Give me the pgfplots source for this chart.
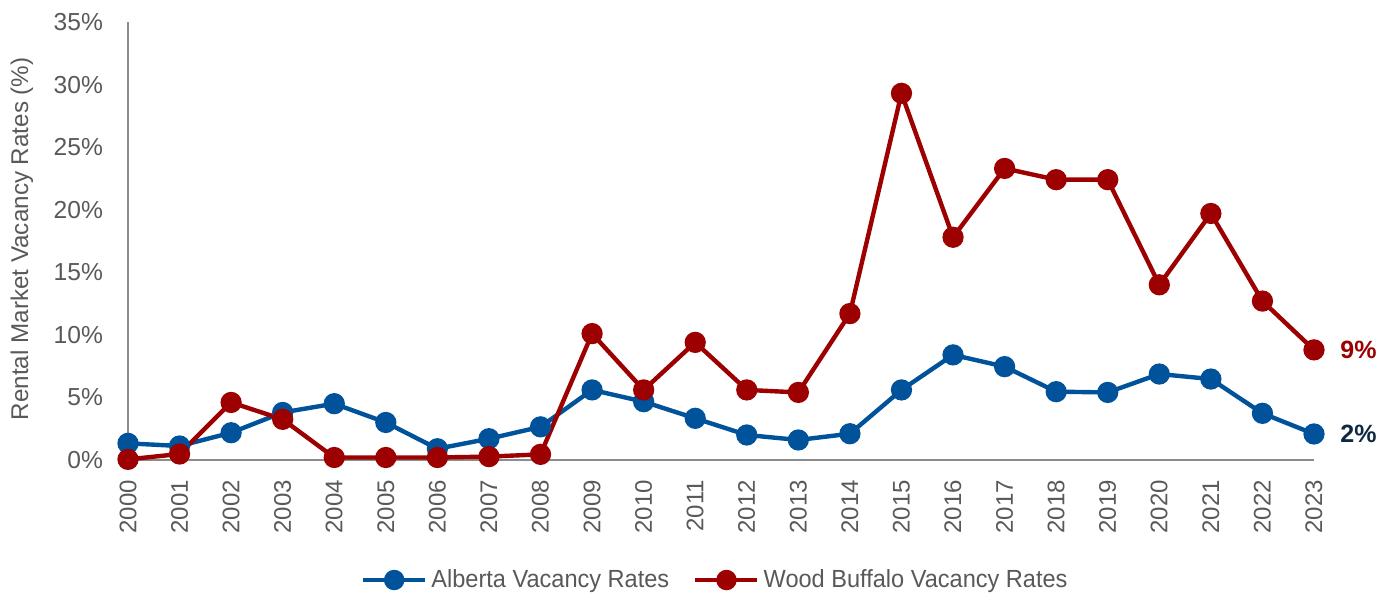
\documentclass[border=0pt]{standalone}
\usepackage{pgfplots}
\pgfplotsset{compat=1.18}
\usepackage{fontspec}
\setmainfont{Liberation Sans}
\newfontfamily\legfont[FakeStretch=0.95]{Liberation Sans}
\definecolor{ablue}{HTML}{00529B}
\definecolor{wred}{HTML}{9C0000}
\definecolor{axgray}{HTML}{8C8C8C}
\definecolor{txtgray}{HTML}{595959}
\definecolor{navy}{HTML}{0E2841}
\begin{document}
\begin{tikzpicture}
\begin{axis}[
  at={(0,0)}, anchor=south west,
  scale only axis,
  width=593pt, height=219pt,
  xmin=2000, xmax=2023,
  ymin=0, ymax=35,
  xtick={2000,...,2023},
  ytick={0,5,...,35},
  yticklabel={\pgfmathprintnumber{\tick}\%},
  /pgf/number format/assume math mode=true,
  xticklabel style={rotate=90, anchor=east, font=\fontsize{12}{14}\selectfont, text=txtgray, xshift=-6.5pt},
  yticklabel style={font=\fontsize{12.3}{14}\selectfont, text=txtgray, xshift=-9pt},
  xticklabel={\pgfmathprintnumber[1000 sep={}]{\tick}},
  axis lines*=left,
  axis line style={axgray, line width=1pt},
  x axis line style={-}, y axis line style={-},
  major tick length=0pt,
  ylabel={Rental Market Vacancy Rates (\%)},
  ylabel style={font=\fontsize{12.1}{14}\selectfont, text=txtgray, at={(axis description cs:-0.0894,0.505)}, anchor=center},
  clip=false,
  legend style={at={(0.496,-0.274)}, anchor=center, draw=none, legend columns=2,
    font=\legfont\fontsize{12.4}{14}\selectfont, text=txtgray,
    /tikz/every even column/.append style={column sep=10pt}},
  legend image code/.code={
    \draw[#1, mark=none] (0pt,0pt) -- (31pt,0pt);
    \fill[#1] (15.5pt,0pt) circle (4pt);
  },
]
\addplot[color=ablue, line width=2.2pt, mark=*, mark size=4.2pt, mark options={fill=ablue, draw=ablue}] coordinates {
(2000,1.33) (2001,1.12) (2002,2.18) (2003,3.8) (2004,4.5) (2005,3.0)
(2006,0.9) (2007,1.7) (2008,2.65) (2009,5.6) (2010,4.66) (2011,3.33)
(2012,2.0) (2013,1.6) (2014,2.1) (2015,5.6) (2016,8.4) (2017,7.46)
(2018,5.46) (2019,5.4) (2020,6.87) (2021,6.47) (2022,3.73) (2023,2.08)
};
\addlegendentry{Alberta Vacancy Rates}
\addplot[color=wred, line width=2.2pt, mark=*, mark size=4.2pt, mark options={fill=wred, draw=wred}] coordinates {
(2000,0.05) (2001,0.48) (2002,4.6) (2003,3.25) (2004,0.2) (2005,0.2)
(2006,0.2) (2007,0.27) (2008,0.45) (2009,10.1) (2010,5.6) (2011,9.4)
(2012,5.6) (2013,5.4) (2014,11.7) (2015,29.3) (2016,17.8) (2017,23.3)
(2018,22.4) (2019,22.4) (2020,14.0) (2021,19.7) (2022,12.7) (2023,8.8)
};
\addlegendentry{Wood Buffalo Vacancy Rates}
\node[anchor=west, text=wred, font=\bfseries\fontsize{12.5}{14}\selectfont, inner sep=0pt] at (axis cs:2023,8.8) [xshift=13pt] {9\%};
\node[anchor=west, text=navy, font=\bfseries\fontsize{12.5}{14}\selectfont, inner sep=0pt] at (axis cs:2023,2.08) [xshift=13pt] {2\%};
\end{axis}
\path[use as bounding box] (-64pt,-66pt) rectangle (631.5pt,230pt);
\end{tikzpicture}
\end{document}
